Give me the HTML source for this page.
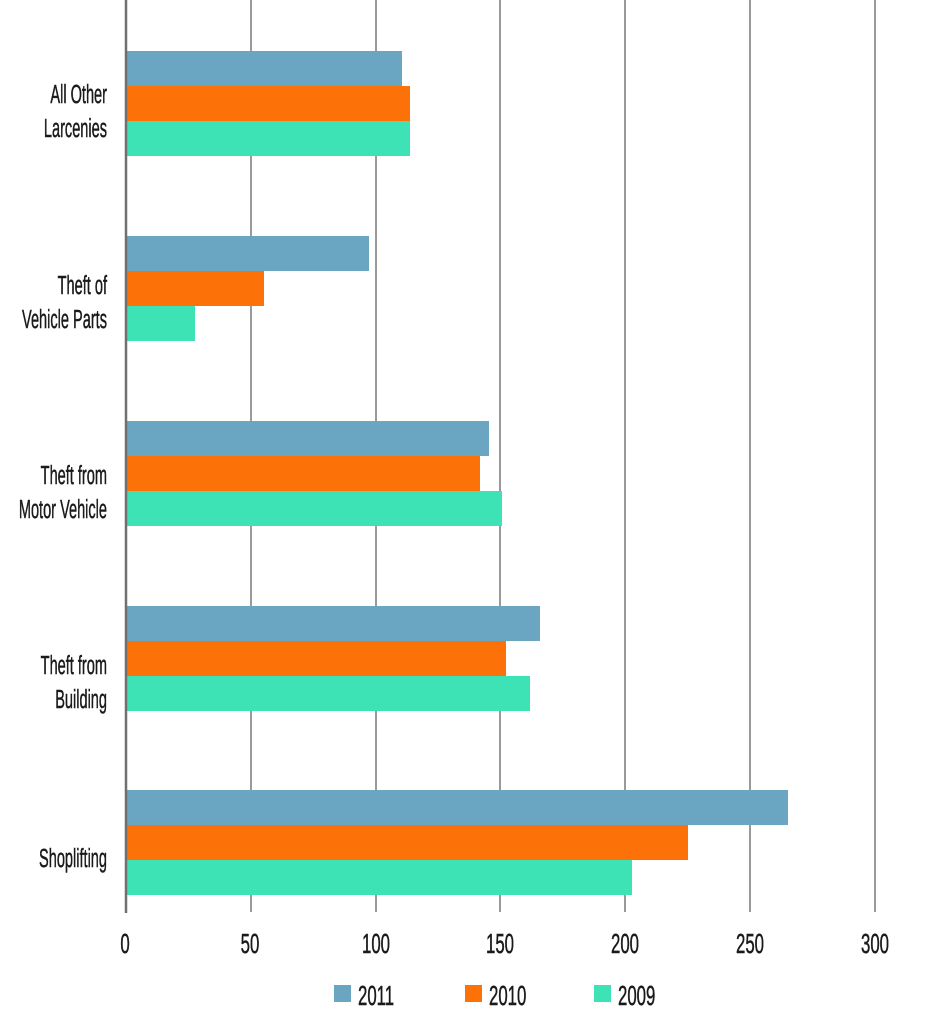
<!DOCTYPE html>
<html><head><meta charset="utf-8"><style>
html,body{margin:0;padding:0;background:#fff;}
svg{display:block;}
text{font-family:"Liberation Sans",sans-serif;fill:#1a1a1a;stroke:#1a1a1a;stroke-width:0.5;}
</style></head><body>
<svg width="940" height="1024" viewBox="0 0 940 1024" xmlns="http://www.w3.org/2000/svg">
<g stroke="#9a9a9a" stroke-width="2">
<line x1="251" y1="0" x2="251" y2="912"/>
<line x1="376" y1="0" x2="376" y2="912"/>
<line x1="500" y1="0" x2="500" y2="912"/>
<line x1="625" y1="0" x2="625" y2="912"/>
<line x1="750" y1="0" x2="750" y2="912"/>
<line x1="875" y1="0" x2="875" y2="912"/>
</g>
<g>
<rect x="127" y="51" width="275" height="35" fill="#6aa5c2"/>
<rect x="127" y="86" width="283" height="35" fill="#fc7208"/>
<rect x="127" y="121" width="283" height="35" fill="#3ee3b5"/>
<rect x="127" y="236" width="242" height="35" fill="#6aa5c2"/>
<rect x="127" y="271" width="137" height="35" fill="#fc7208"/>
<rect x="127" y="306" width="68" height="35" fill="#3ee3b5"/>
<rect x="127" y="421" width="362" height="35" fill="#6aa5c2"/>
<rect x="127" y="456" width="353" height="35" fill="#fc7208"/>
<rect x="127" y="491" width="375" height="35" fill="#3ee3b5"/>
<rect x="127" y="606" width="413" height="35" fill="#6aa5c2"/>
<rect x="127" y="641" width="379" height="35" fill="#fc7208"/>
<rect x="127" y="676" width="403" height="35" fill="#3ee3b5"/>
<rect x="127" y="790" width="661" height="35" fill="#6aa5c2"/>
<rect x="127" y="825" width="561" height="35" fill="#fc7208"/>
<rect x="127" y="860" width="505" height="35" fill="#3ee3b5"/>
</g>
<line x1="126" y1="0" x2="126" y2="913" stroke="#707070" stroke-width="2.5"/>
<g font-size="26" text-anchor="end" transform="translate(107,0) scale(0.56,1)">
<text x="0" y="103">All Other</text><text x="0" y="137">Larcenies</text>
<text x="0" y="294">Theft of</text><text x="0" y="328">Vehicle Parts</text>
<text x="0" y="484">Theft from</text><text x="0" y="518">Motor Vehicle</text>
<text x="0" y="674">Theft from</text><text x="0" y="708">Building</text>
<text x="0" y="867">Shoplifting</text>
</g>
<g font-size="28" text-anchor="middle">
<text transform="translate(125,953) scale(0.6,1)">0</text>
<text transform="translate(250,953) scale(0.6,1)">50</text>
<text transform="translate(376,953) scale(0.6,1)">100</text>
<text transform="translate(500,953) scale(0.6,1)">150</text>
<text transform="translate(625,953) scale(0.6,1)">200</text>
<text transform="translate(750,953) scale(0.6,1)">250</text>
<text transform="translate(875,953) scale(0.6,1)">300</text>
</g>
<rect x="334" y="985" width="17" height="17" fill="#6aa5c2"/>
<rect x="465" y="985" width="17" height="17" fill="#fc7208"/>
<rect x="594" y="985" width="17" height="17" fill="#3ee3b5"/>
<g font-size="28">
<text transform="translate(358,1005) scale(0.6,1)">2011</text>
<text transform="translate(489,1005) scale(0.6,1)">2010</text>
<text transform="translate(618,1005) scale(0.6,1)">2009</text>
</g>
</svg>
</body></html>
